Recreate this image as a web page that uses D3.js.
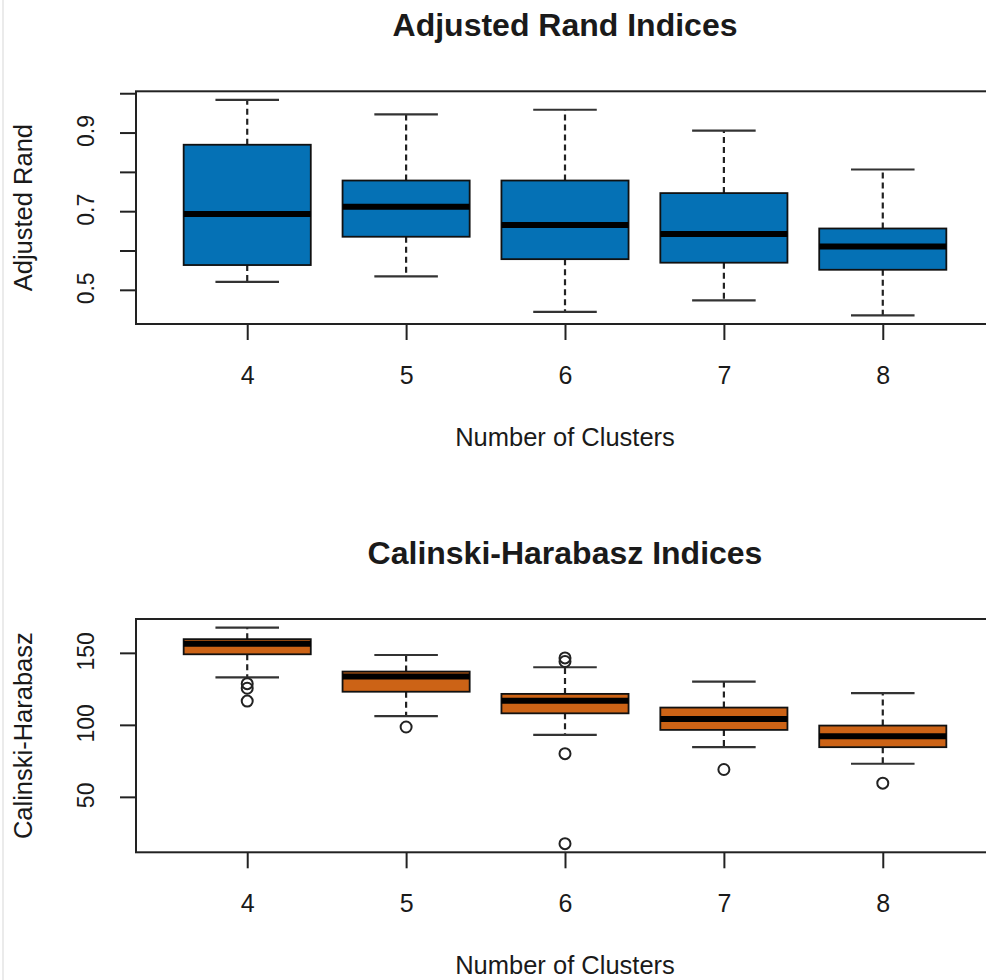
<!DOCTYPE html>
<html>
<head>
<meta charset="utf-8">
<script src="https://cdn.jsdelivr.net/npm/d3@7"></script>
<style>
  body { margin: 0; background: #fff; }
  svg text { font-family: "Liberation Sans", Arial, sans-serif; fill: #1a1a1a; }
</style>
</head>
<body>
<div id="viz"></div>
<script>
const width = 986;
const height = 980;

// cluster counts on the x axis
const clusters = [4, 5, 6, 7, 8];

// Adjusted Rand boxplot stats (lower whisker, Q1, median, Q3, upper whisker)
const randLow = [0.520, 0.534, 0.444, 0.473, 0.435];
const randQ1 = [0.563, 0.635, 0.578, 0.569, 0.551];
const randMed = [0.693, 0.711, 0.665, 0.642, 0.610];
const randQ3 = [0.869, 0.778, 0.778, 0.746, 0.656];
const randHigh = [0.983, 0.946, 0.958, 0.905, 0.806];
const randOut = [[], [], [], [], []];
const randTicks = [0.5, 0.6, 0.7, 0.8, 0.9, 1.0];
const randLabels = [0.5, 0.7, 0.9];

// Calinski-Harabasz boxplot stats
const chLow = [133, 106, 93, 84.5, 73];
const chQ1 = [149, 123, 108, 96.5, 84.5];
const chMed = [156.4, 133.5, 116.8, 104, 92];
const chQ3 = [159.5, 137, 121.5, 112, 99.5];
const chHigh = [167.5, 148.5, 140, 130, 122];
const chOut = [[128.6, 125.4, 116.5], [98.5], [146.5, 144, 80, 17.5], [69], [59.5]];
const chTicks = [50, 100, 150];
const chLabels = [50, 100, 150];

const svg = d3.select("#viz")
  .append("svg")
  .attr("width", width)
  .attr("height", height);

svg.append("rect").attr("width", width).attr("height", height).attr("fill", "#fff");
// faint screenshot edge on the left
svg.append("line")
  .attr("x1", 3).attr("x2", 3).attr("y1", 0).attr("y2", height)
  .attr("stroke", "#e4e4e4").attr("stroke-width", 1.5);

function boxPanel(opts) {
  const {top, bottom, title, ylabel, low, q1, med, q3, high, out, ticks, labels, fill} = opts;
  const left = 136, right = 994;

  const n = clusters.length;
  const x = d3.scaleLinear().domain([0.5 - 0.04 * n, n + 0.5 + 0.04 * n]).range([left, right]);

  let all = low.concat(high).concat(out.flat());
  let lo = d3.min(all), hi = d3.max(all);
  let pad = (hi - lo) * 0.04;
  const y = d3.scaleLinear().domain([lo - pad, hi + pad]).range([bottom, top]);

  const g = svg.append("g");

  const boxes = clusters.map((c, i) => ({
    c: c, i: i + 1, low: low[i], q1: q1[i], med: med[i], q3: q3[i], high: high[i], out: out[i]
  }));
  const bw = (x(1.4) - x(1)); // half width of a box (0.8 total)
  const cw = bw / 2;         // half width of staple

  // whiskers (dashed)
  g.selectAll(".wup").data(boxes).join("line")
    .attr("x1", d => x(d.i)).attr("x2", d => x(d.i))
    .attr("y1", d => y(d.q3)).attr("y2", d => y(d.high))
    .attr("stroke", "#222").attr("stroke-width", 2.2).attr("stroke-dasharray", "6,4");
  g.selectAll(".wlo").data(boxes).join("line")
    .attr("x1", d => x(d.i)).attr("x2", d => x(d.i))
    .attr("y1", d => y(d.q1)).attr("y2", d => y(d.low))
    .attr("stroke", "#222").attr("stroke-width", 2.2).attr("stroke-dasharray", "6,4");

  // staples
  g.selectAll(".caphi").data(boxes).join("line")
    .attr("x1", d => x(d.i) - cw).attr("x2", d => x(d.i) + cw)
    .attr("y1", d => y(d.high)).attr("y2", d => y(d.high))
    .attr("stroke", "#333").attr("stroke-width", 2.2);
  g.selectAll(".caplo").data(boxes).join("line")
    .attr("x1", d => x(d.i) - cw).attr("x2", d => x(d.i) + cw)
    .attr("y1", d => y(d.low)).attr("y2", d => y(d.low))
    .attr("stroke", "#333").attr("stroke-width", 2.2);

  // boxes
  g.selectAll(".box").data(boxes).join("rect")
    .attr("x", d => x(d.i) - bw)
    .attr("width", 2 * bw)
    .attr("y", d => y(d.q3))
    .attr("height", d => y(d.q1) - y(d.q3))
    .attr("fill", fill)
    .attr("stroke", "#111").attr("stroke-width", 1.8);

  // medians
  g.selectAll(".med").data(boxes).join("line")
    .attr("x1", d => x(d.i) - bw).attr("x2", d => x(d.i) + bw)
    .attr("y1", d => y(d.med)).attr("y2", d => y(d.med))
    .attr("stroke", "#000").attr("stroke-width", 6);

  // outliers
  const pts = boxes.flatMap(d => d.out.map(v => ({i: d.i, v: v})));
  g.selectAll(".out").data(pts).join("circle")
    .attr("cx", d => x(d.i)).attr("cy", d => y(d.v)).attr("r", 5.5)
    .attr("fill", "none").attr("stroke", "#222").attr("stroke-width", 2);

  // plot frame
  g.append("rect")
    .attr("x", left).attr("y", top)
    .attr("width", right - left).attr("height", bottom - top)
    .attr("fill", "none").attr("stroke", "#222").attr("stroke-width", 2);

  // x axis
  const xa = g.append("g").attr("transform", `translate(0,${bottom})`)
    .call(d3.axisBottom(x).tickValues(boxes.map(d => d.i)).tickFormat((d, i) => clusters[i]).tickSize(16));
  xa.select(".domain").remove();
  xa.selectAll("line").attr("stroke", "#222").attr("stroke-width", 2);
  xa.selectAll("text").attr("font-size", 25).attr("fill", "#1a1a1a")
    .attr("font-family", "Liberation Sans, Arial, sans-serif")
    .attr("y", 60).attr("dy", 0);

  // y axis
  const ya = g.append("g").attr("transform", `translate(${left},0)`)
    .call(d3.axisLeft(y).tickValues(ticks).tickSize(16).tickFormat(d => labels.includes(d) ? d3.format("")(d) : ""));
  ya.select(".domain").remove();
  ya.selectAll("line").attr("stroke", "#222").attr("stroke-width", 2);
  ya.selectAll("text")
    .attr("font-size", 23).attr("fill", "#1a1a1a").attr("font-family", "Liberation Sans, Arial, sans-serif")
    .attr("text-anchor", "middle")
    .attr("x", 0).attr("dy", 0)
    .attr("transform", "translate(-42,-2) rotate(-90)");

  // titles
  svg.append("text")
    .attr("x", (left + right) / 2).attr("y", top - 55)
    .attr("text-anchor", "middle")
    .attr("font-size", 32).attr("font-weight", "bold")
    .text(title);

  svg.append("text")
    .attr("x", (left + right) / 2).attr("y", bottom + 122)
    .attr("text-anchor", "middle")
    .attr("font-size", 25.5)
    .text("Number of Clusters");

  svg.append("text")
    .attr("transform", `translate(32,${(top + bottom) / 2}) rotate(-90)`)
    .attr("text-anchor", "middle")
    .attr("font-size", 25.5)
    .text(ylabel);
}

boxPanel({
  top: 91.3, bottom: 324, title: "Adjusted Rand Indices", ylabel: "Adjusted Rand",
  low: randLow, q1: randQ1, med: randMed, q3: randQ3, high: randHigh, out: randOut,
  ticks: randTicks, labels: randLabels, fill: "#0571b5"
});

boxPanel({
  top: 619, bottom: 852.3, title: "Calinski-Harabasz Indices", ylabel: "Calinski-Harabasz",
  low: chLow, q1: chQ1, med: chMed, q3: chQ3, high: chHigh, out: chOut,
  ticks: chTicks, labels: chLabels, fill: "#cc6316"
});
</script>
</body>
</html>
